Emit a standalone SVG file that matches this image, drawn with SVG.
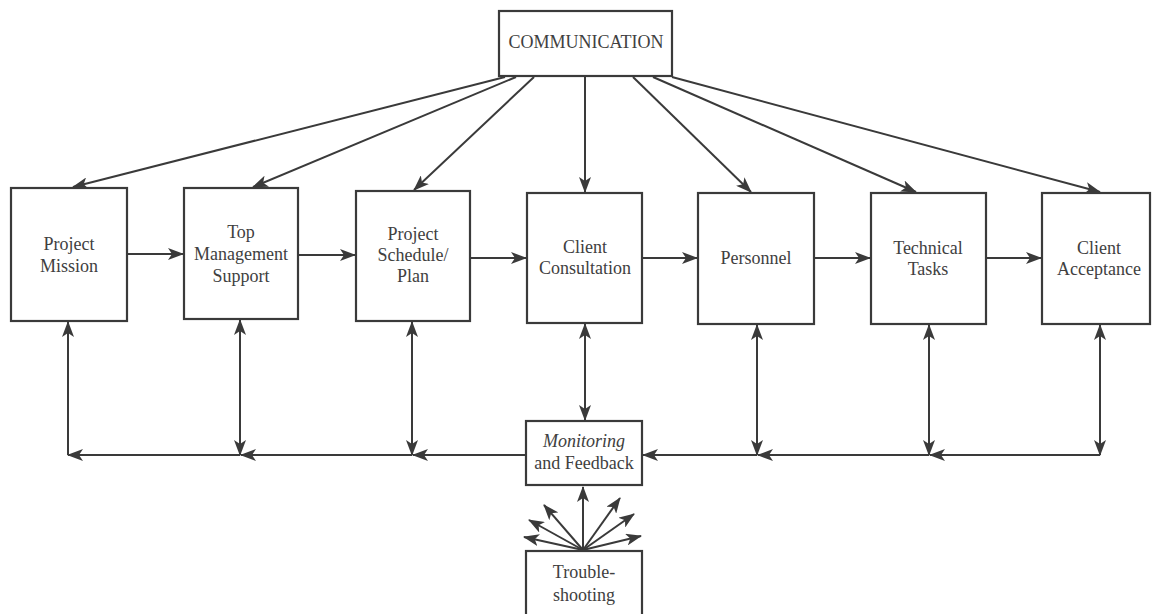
<svg xmlns="http://www.w3.org/2000/svg" width="1153" height="614" viewBox="0 0 1153 614">
  <style>
    .box { fill: #ffffff; stroke: #3a3a3a; stroke-width: 2.2; }
    .lbl { font-family: 'Liberation Serif', 'DejaVu Serif', 'Times New Roman', serif; font-size: 18px; fill: #404040; text-anchor: middle; dominant-baseline: middle; }
    .ital { font-style: italic; }
    .ln { fill: none; stroke: #3a3a3a; stroke-width: 2; }
    .end { marker-end: url(#ah); }
    .both { marker-end: url(#ah); marker-start: url(#ahs); }
  </style>
  <defs>
    <marker id="ah" viewBox="0 0 16 12" refX="15" refY="6" markerWidth="16" markerHeight="12" markerUnits="userSpaceOnUse" orient="auto">
      <path d="M0,0 L16,6 L0,12 L4,6 z" fill="#3a3a3a"/>
    </marker>
    <marker id="ahs" viewBox="0 0 16 12" refX="15" refY="6" markerWidth="16" markerHeight="12" markerUnits="userSpaceOnUse" orient="auto-start-reverse">
      <path d="M0,0 L16,6 L0,12 L4,6 z" fill="#3a3a3a"/>
    </marker>
  </defs>
  <rect width="1153" height="614" fill="#ffffff"/>

  <g id="connectors">
    <!-- communication fan-out -->
    <path class="ln end" d="M505,77 L73,187"/>
    <path class="ln end" d="M516,77 L253,187"/>
    <path class="ln end" d="M534,77 L414,190"/>
    <path class="ln end" d="M585,77 L585,192"/>
    <path class="ln end" d="M633,77 L751,192"/>
    <path class="ln end" d="M653,77 L916,192"/>
    <path class="ln end" d="M672,77 L1100,192"/>

    <!-- main sequence -->
    <path class="ln end" d="M127,254 L183,254"/>
    <path class="ln end" d="M298,255 L355,255"/>
    <path class="ln end" d="M470,258 L526,258"/>
    <path class="ln end" d="M642,258 L697,258"/>
    <path class="ln end" d="M814,258 L870,258"/>
    <path class="ln end" d="M986,258 L1041,258"/>

    <!-- feedback verticals -->
    <path class="ln end" d="M68,455 L68,322"/>
    <path class="ln both" d="M240,455 L240,320"/>
    <path class="ln both" d="M412,455 L412,322"/>
    <path class="ln both" d="M585,420 L585,324"/>
    <path class="ln both" d="M757,455 L757,325"/>
    <path class="ln both" d="M929,455 L929,325"/>
    <path class="ln both" d="M1100,455 L1100,325"/>

    <!-- feedback return lines -->
    <path class="ln end" d="M526,455 L413,455"/>
    <path class="ln end" d="M412,455 L241,455"/>
    <path class="ln end" d="M240,455 L68,455"/>
    <path class="ln end" d="M1100,455 L930,455"/>
    <path class="ln end" d="M929,455 L758,455"/>
    <path class="ln end" d="M757,455 L643,455"/>

    <!-- troubleshooting burst -->
    <path class="ln end" d="M583,550 L583,487"/>
    <path class="ln end" d="M583,550 L544,505"/>
    <path class="ln end" d="M583,550 L529,520"/>
    <path class="ln end" d="M583,550 L524,537"/>
    <path class="ln end" d="M583,550 L620,498"/>
    <path class="ln end" d="M583,550 L634,514"/>
    <path class="ln end" d="M583,550 L641,536"/>
  </g>

  <g id="communication">
    <rect class="box" x="499" y="11" width="173" height="65"/>
    <text class="lbl" x="586" y="44">COMMUNICATION</text>
  </g>

  <g id="project-mission">
    <rect class="box" x="11" y="188" width="116" height="133"/>
    <text class="lbl" x="69" y="246">Project</text>
    <text class="lbl" x="69" y="268">Mission</text>
  </g>

  <g id="top-management-support">
    <rect class="box" x="184" y="188" width="114" height="131"/>
    <text class="lbl" x="241" y="234">Top</text>
    <text class="lbl" x="241" y="256">Management</text>
    <text class="lbl" x="241" y="278">Support</text>
  </g>

  <g id="project-schedule-plan">
    <rect class="box" x="356" y="191" width="114" height="130"/>
    <text class="lbl" x="413" y="236">Project</text>
    <text class="lbl" x="413" y="257">Schedule/</text>
    <text class="lbl" x="413" y="278">Plan</text>
  </g>

  <g id="client-consultation">
    <rect class="box" x="527" y="193" width="115" height="130"/>
    <text class="lbl" x="585" y="249">Client</text>
    <text class="lbl" x="585" y="270">Consultation</text>
  </g>

  <g id="personnel">
    <rect class="box" x="698" y="193" width="116" height="131"/>
    <text class="lbl" x="756" y="260">Personnel</text>
  </g>

  <g id="technical-tasks">
    <rect class="box" x="871" y="193" width="115" height="131"/>
    <text class="lbl" x="928" y="250">Technical</text>
    <text class="lbl" x="928" y="271">Tasks</text>
  </g>

  <g id="client-acceptance">
    <rect class="box" x="1042" y="193" width="108" height="131"/>
    <text class="lbl" x="1099" y="250">Client</text>
    <text class="lbl" x="1099" y="271">Acceptance</text>
  </g>

  <g id="monitoring-feedback">
    <rect class="box" x="526" y="421" width="116" height="64"/>
    <text class="lbl ital" x="584" y="443">Monitoring</text>
    <text class="lbl" x="584" y="465">and Feedback</text>
  </g>

  <g id="troubleshooting">
    <rect class="box" x="526" y="551" width="116" height="80"/>
    <text class="lbl" x="584" y="574">Trouble-</text>
    <text class="lbl" x="584" y="597">shooting</text>
  </g>
</svg>
